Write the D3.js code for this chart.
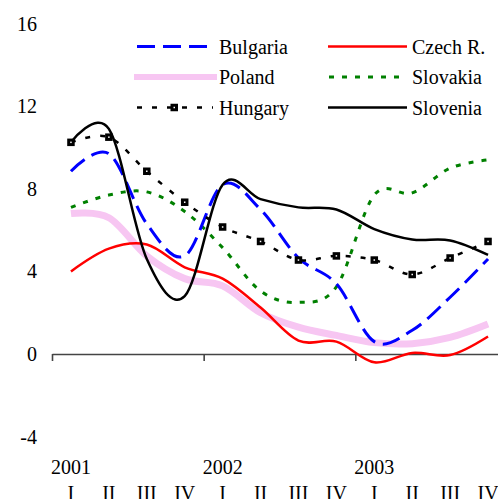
<!DOCTYPE html>
<html>
<head>
<meta charset="utf-8">
<script src="https://cdn.jsdelivr.net/npm/d3@7"></script>
<style>
  body { margin: 0; background: #fff; }
  text { font-family: "Liberation Serif", "DejaVu Serif", serif; }
</style>
</head>
<body>
<div id="container"></div>
<script>
/* DATA */
const years = ["2001", "2002", "2003"];
const quarterNames = ["I", "II", "III", "IV"];
const quarters = years.flatMap((y) => quarterNames.map((q) => y + "-" + q));
const yTicks = [16, 12, 8, 4, 0, -4];

const bulgaria = [8.85, 9.7, 6.3, 4.75, 8.2, 7.0, 4.65, 3.4, 0.6, 1.15, 2.75, 4.6];
const czech = [4.0, 5.1, 5.3, 4.2, 3.65, 2.25, 0.65, 0.6, -0.4, 0.05, -0.05, 0.85];
const poland = [6.8, 6.6, 4.75, 3.65, 3.3, 2.0, 1.3, 0.9, 0.55, 0.5, 0.8, 1.45];
const slovakia = [7.1, 7.7, 7.85, 6.9, 5.15, 3.05, 2.5, 3.25, 7.7, 7.8, 9.0, 9.4];
const hungary = [10.25, 10.5, 8.85, 7.35, 6.15, 5.45, 4.55, 4.75, 4.55, 3.85, 4.65, 5.45];
const slovenia = [10.25, 10.9, 4.6, 2.8, 8.2, 7.5, 7.1, 7.0, 6.05, 5.55, 5.5, 4.8];

const width = 498;
const height = 499;
const font = "'Liberation Serif', 'Times New Roman', serif";

const series = [
  { name: "Poland", values: poland, color: "#f7c6f2", w: 7, dash: null },
  { name: "Czech R.", values: czech, color: "#ff0000", w: 2.5, dash: null },
  { name: "Slovakia", values: slovakia, color: "#008000", w: 3, dash: "5,8" },
  { name: "Bulgaria", values: bulgaria, color: "#0000ff", w: 3, dash: "18,8" },
  { name: "Hungary", values: hungary, color: "#000000", w: 2.5, dash: "5,10", marker: true },
  { name: "Slovenia", values: slovenia, color: "#000000", w: 2.5, dash: null },
];

/* SCALES */
const xScale = d3.scaleBand().domain(quarters).range([52, 507]);
const xYear = d3.scaleLinear().domain([2001, 2004]).range([52, 507]);
const yScale = d3.scaleLinear().domain([-4, 16]).range([436.6, 23.6]);
const cx = (i) => xScale(quarters[i]) + xScale.bandwidth() / 2;

const svg = d3
  .select("#container")
  .append("svg")
  .attr("width", width)
  .attr("height", height);

// Y LABELS
svg
  .selectAll(".ylab")
  .data(yTicks)
  .join("text")
  .attr("class", "ylab")
  .attr("x", 37)
  .attr("y", (d) => yScale(d) + 7)
  .attr("text-anchor", "end")
  .attr("font-family", font)
  .attr("font-size", 20)
  .text((d) => d);

// X AXIS
svg
  .append("g")
  .attr("transform", `translate(0,${yScale(0)})`)
  .call(
    d3.axisBottom(xYear)
      .tickValues([2001, 2002, 2003])
      .tickSize(7)
      .tickSizeOuter(0)
      .tickFormat("")
  )
  .call((g) => g.selectAll("path, line").attr("stroke", "#444").attr("stroke-width", 1.6));

svg
  .selectAll(".year")
  .data(years)
  .join("text")
  .attr("class", "year")
  .attr("x", (d) => cx(quarters.indexOf(d + "-I")))
  .attr("y", 474)
  .attr("text-anchor", "middle")
  .attr("font-family", font)
  .attr("font-size", 20)
  .text((d) => d);

svg
  .selectAll(".qtr")
  .data(quarters)
  .join("text")
  .attr("class", "qtr")
  .attr("x", (d, i) => cx(i))
  .attr("y", 500)
  .attr("text-anchor", "middle")
  .attr("font-family", font)
  .attr("font-size", 20)
  .text((d) => d.split("-")[1]);

// LINES
const line = d3
  .line()
  .x((d, i) => cx(i))
  .y((d) => yScale(d))
  .curve(d3.curveCatmullRom.alpha(0));

svg
  .selectAll(".series")
  .data(series)
  .join("path")
  .attr("class", "series")
  .attr("d", (d) => line(d.values))
  .attr("fill", "none")
  .attr("stroke", (d) => d.color)
  .attr("stroke-width", (d) => d.w)
  .attr("stroke-dasharray", (d) => d.dash);

svg
  .selectAll(".hmark")
  .data(hungary)
  .join("rect")
  .attr("class", "hmark")
  .attr("x", (d, i) => cx(i) - 2.25)
  .attr("y", (d) => yScale(d) - 2.25)
  .attr("width", 4.5)
  .attr("height", 4.5)
  .attr("fill", "#fff")
  .attr("stroke", "#000")
  .attr("stroke-width", 3);

// LEGEND
const legendRows = [
  { s: "Bulgaria", x0: 137, x1: 209, tx: 219, y: 46.5 },
  { s: "Czech R.", x0: 328, x1: 407, tx: 412, y: 46.5 },
  { s: "Poland", x0: 134, x1: 217, tx: 219, y: 77 },
  { s: "Slovakia", x0: 329, x1: 407, tx: 412, y: 77 },
  { s: "Hungary", x0: 137, x1: 213, tx: 219, y: 107.5 },
  { s: "Slovenia", x0: 328, x1: 407, tx: 412, y: 107.5 },
];

const leg = svg
  .selectAll(".leg")
  .data(legendRows)
  .join("g")
  .attr("class", "leg");

leg
  .append("line")
  .attr("x1", (d) => d.x0)
  .attr("x2", (d) => d.x1)
  .attr("y1", (d) => d.y)
  .attr("y2", (d) => d.y)
  .each(function (d) {
    const s = series.find((e) => e.name === d.s);
    d3.select(this)
      .attr("stroke", s.color)
      .attr("stroke-width", s.name === "Poland" ? 6 : s.w)
      .attr("stroke-dasharray", s.dash);
  });

leg
  .filter((d) => d.s === "Hungary")
  .append("rect")
  .attr("x", 172)
  .attr("y", (d) => d.y - 2.25)
  .attr("width", 4.5)
  .attr("height", 4.5)
  .attr("fill", "#fff")
  .attr("stroke", "#000")
  .attr("stroke-width", 3);

leg
  .append("text")
  .attr("x", (d) => d.tx)
  .attr("y", (d) => d.y + 7)
  .attr("font-family", font)
  .attr("font-size", 20)
  .text((d) => d.s);
</script>
</body>
</html>
